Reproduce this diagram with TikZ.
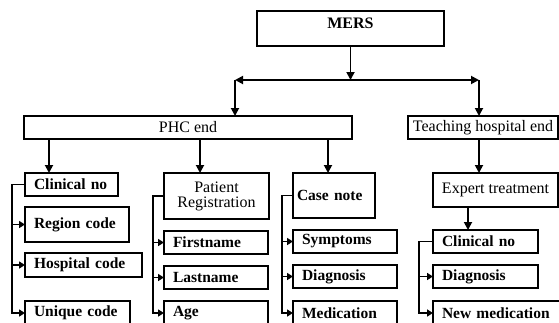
\documentclass[tikz,border=0pt]{standalone}
\usepackage{fontspec}
\setmainfont{Liberation Serif}
\usetikzlibrary{arrows.meta}

\tikzset{
  box/.style={draw, line width=1.8pt, anchor=north west, outer sep=0pt, inner ysep=0pt, inner xsep=2pt, font=\fontsize{16}{15}\selectfont},
  leaf/.style={box, inner xsep=9pt, text width=#1, align=left, font=\fontsize{15.5}{15}\selectfont\bfseries},
  arr/.style={line width=1.8pt, -{Triangle[length=8pt,width=8pt]}},
  sarr/.style={line width=1.8pt, -{Triangle[length=6pt,width=7pt]}},
}

\begin{document}
\begin{tikzpicture}[x=1pt,y=1pt,yscale=-1]
\useasboundingbox (0,0) rectangle (559,322);
\clip (0,0) rectangle (559,322);

% Top
\node[box, minimum width=187pt, minimum height=35pt, text depth=10pt, font=\fontsize{16}{15}\selectfont\bfseries] (mers) at (257,11) {MERS};
\node[box, minimum width=328pt, minimum height=23pt] (phc) at (24,116) {PHC end};
\node[box, minimum width=150pt, minimum height=23pt] (teach) at (408,116) {Teaching hospital end};

% Second row
\node[leaf=75pt, minimum height=23pt] (cn1) at (25,173) {Clinical no};
\node[box, minimum width=105pt, minimum height=46pt, align=center] (pr) at (164,173) {Patient\\Registration};
\node[leaf=74pt, inner xsep=4pt, minimum height=45pt] (case) at (293,173) {Case note};
\node[box, minimum width=125pt, minimum height=34pt] (expert) at (433,173) {Expert treatment};

% Leaves
\node[leaf=86pt, minimum height=35pt] (region) at (25,207) {Region code};
\node[leaf=99pt, minimum height=24pt] (hosp) at (25,253) {Hospital code};
\node[leaf=87pt, minimum height=24pt] (uniq) at (25,301) {Unique code};
\node[leaf=86pt, minimum height=23pt] (first) at (164,231) {Firstname};
\node[leaf=86pt, minimum height=23pt] (last) at (164,266) {Lastname};
\node[leaf=86pt, minimum height=24pt] (age) at (164,301) {Age};
\node[leaf=86pt, minimum height=23pt] (symp) at (293,230) {Symptoms};
\node[leaf=86pt, minimum height=23pt] (diag1) at (293,265) {Diagnosis};
\node[leaf=86pt, minimum height=24pt] (medi) at (293,301) {Medication};
\node[leaf=87pt, minimum height=23pt] (cn2) at (433,230) {Clinical no};
\node[leaf=87pt, minimum height=23pt] (diag2) at (433,265) {Diagnosis};
\node[leaf=122pt, minimum height=24pt] (newmed) at (433,301) {New medication};

% Split under MERS
\coordinate (split) at (350.5,80);
\coordinate (phcin) at (235,80);
\coordinate (teachin) at (479,80);
\draw[arr] (mers.south) -- (split);
\draw[arr] (split) -- (phcin);
\draw[arr] (split) -- (teachin);
\draw[arr] (phcin) -- (phcin |- phc.north);
\draw[arr] (teachin) -- (teachin |- teach.north);

% Down to second row
\draw[arr] ([xshift=-22.5pt]cn1.north |- phc.south) -- ([xshift=-22.5pt]cn1.north);
\draw[arr] ([xshift=-16.5pt]pr.north |- phc.south) -- ([xshift=-16.5pt]pr.north);
\draw[arr] ([xshift=-6pt]case.north |- phc.south) -- ([xshift=-6pt]case.north);
\draw[arr] ([xshift=-16.5pt]expert.north |- teach.south) -- ([xshift=-16.5pt]expert.north);
\draw[arr] ([xshift=-17.5pt]cn2.north |- expert.south) -- ([xshift=-17.5pt]cn2.north);

% Side trees
\foreach \leaf in {region,hosp,uniq}
  \draw[sarr] (cn1.west) -- ++(-13,0) |- (\leaf.west);
\foreach \leaf in {first,last,age}
  \draw[sarr] (pr.west) -- ++(-11,0) |- (\leaf.west);
\foreach \leaf in {symp,diag1,medi}
  \draw[sarr] (case.west) -- ++(-11,0) |- (\leaf.west);
\foreach \leaf in {diag2,newmed}
  \draw[sarr] (cn2.west) -- ++(-14,0) |- (\leaf.west);

\end{tikzpicture}
\end{document}
